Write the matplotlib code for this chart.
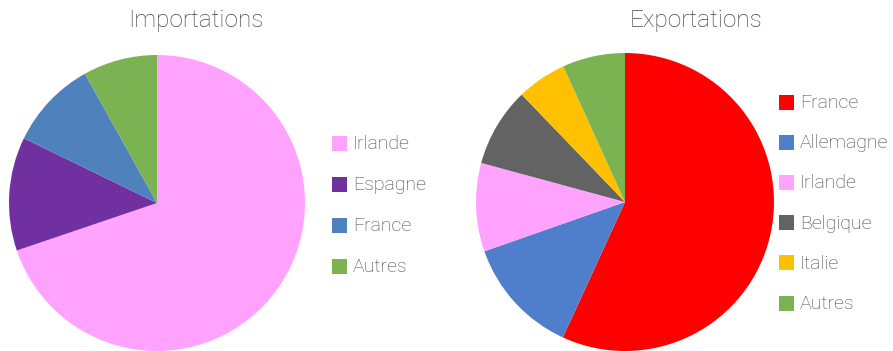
import matplotlib
matplotlib.use("Agg")
import matplotlib.pyplot as plt
from matplotlib.patches import Rectangle

# Import shares (%)
imp_labels = ["Irlande", "Espagne", "France", "Autres"]
imp_values = [69.8, 12.4, 9.7, 8.1]
imp_colors = ["#FFA3FF", "#7030A0", "#4F81BD", "#7BB352"]

# Export shares (%)
exp_labels = ["France", "Allemagne", "Irlande", "Belgique", "Italie", "Autres"]
exp_values = [56.9, 12.8, 9.6, 8.6, 5.4, 6.8]
exp_colors = ["#FF0000", "#4F7FCB", "#FFA3FF", "#636363", "#FFC000", "#7BB352"]

W, H = 893, 351
fig = plt.figure(figsize=(W / 100, H / 100), dpi=100)
ax = fig.add_axes([0, 0, 1, 1])
ax.set_xlim(0, W)
ax.set_ylim(0, H)
ax.axis("off")

text_color = "#454545"
font = dict(family="Roboto", weight="light", color=text_color)


def draw_pie(values, colors, labels, cx, cy, r, title, tx, leg_x, leg_y0, leg_dy):
    ax.pie(values, colors=colors, center=(cx, H - cy), radius=r,
           startangle=90, counterclock=False,
           wedgeprops=dict(linewidth=0))
    ax.text(tx, H - 21, title, ha="center", va="center", fontsize=17.5, **font)
    for i, (lab, col) in enumerate(zip(labels, colors)):
        y = leg_y0 + i * leg_dy
        ax.add_patch(Rectangle((leg_x, H - y - 7.5), 15, 15, facecolor=col,
                               edgecolor="none"))
        ax.text(leg_x + 21, H - y - 1, lab, ha="left", va="center",
                fontsize=14, **font)


draw_pie(imp_values, imp_colors, imp_labels, 157, 203, 148,
         "Importations", 196, 332, 143, 41)
draw_pie(exp_values, exp_colors, exp_labels, 625, 202, 149,
         "Exportations", 696, 779, 102, 40.2)

ax.set_xlim(0, W)
ax.set_ylim(0, H)
ax.set_aspect("equal")
fig.savefig("out.png", dpi=100)
